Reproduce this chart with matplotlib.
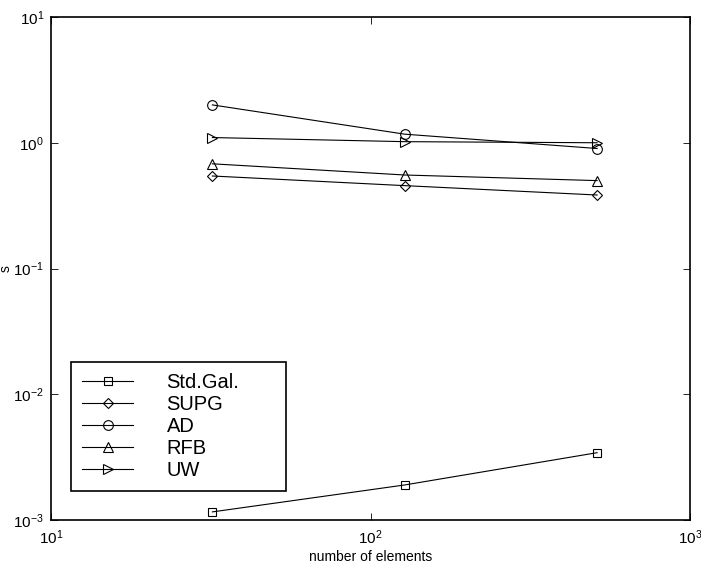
import numpy as np
import matplotlib
matplotlib.use("Agg")
import matplotlib.pyplot as plt

plt.rcParams['font.family'] = ['Liberation Sans', 'DejaVu Sans']

# number of elements
n_elem = [32, 128, 512]

# s values per method
std_gal = [1.16e-3, 1.90e-3, 3.43e-3]
supg = [0.544, 0.456, 0.384]
ad = [2.0, 1.17, 0.90]
rfb = [0.68, 0.554, 0.50]
uw = [1.10, 1.02, 1.0]

labels = ['Std.Gal.', 'SUPG', 'AD', 'RFB', 'UW']
markers = ['s', 'D', 'o', '^', '>']
msizes = [6, 5.5, 7, 7, 7]

fig = plt.figure(figsize=(7.01, 5.66), dpi=100)
ax = fig.add_axes([51/701, 1 - 520/566, 639/701, 503/566])

for y, lab, m, ms in zip([std_gal, supg, ad, rfb, uw], labels, markers, msizes):
    ax.plot(n_elem, y, color='black', lw=0.8, marker=m, markersize=ms,
            markerfacecolor='none', markeredgecolor='black', markeredgewidth=0.8,
            label=lab)

ax.set_xscale('log')
ax.set_yscale('log')
ax.set_xlim(10, 1000)
ax.set_ylim(1e-3, 10)
ax.xaxis.set_minor_locator(matplotlib.ticker.NullLocator())
ax.yaxis.set_minor_locator(matplotlib.ticker.NullLocator())
ax.tick_params(which='major', direction='in', length=5, width=0.6,
               top=True, right=True, labelsize=11)
ax.tick_params(axis='y', pad=5)
ax.tick_params(axis='x', pad=6)
for sp in ax.spines.values():
    sp.set_linewidth(1.2)

ax.set_xlabel('number of elements', fontsize=10, labelpad=2)
ax.set_ylabel('s', fontsize=10, va='center', rotation_mode='default')
ax.yaxis.set_label_coords(-0.071, 0.5)

leg = ax.legend(loc='lower left', bbox_to_anchor=(0.031, 0.058, 0.3365, 0.2),
                mode='expand', borderaxespad=0,
                fontsize=14.5, frameon=True, fancybox=False, framealpha=1,
                edgecolor='black', handlelength=2.55, handletextpad=1.65,
                labelspacing=0.14, borderpad=0.55)
leg.get_frame().set_linewidth(1.2)

fig.savefig('out.png', dpi=100)
